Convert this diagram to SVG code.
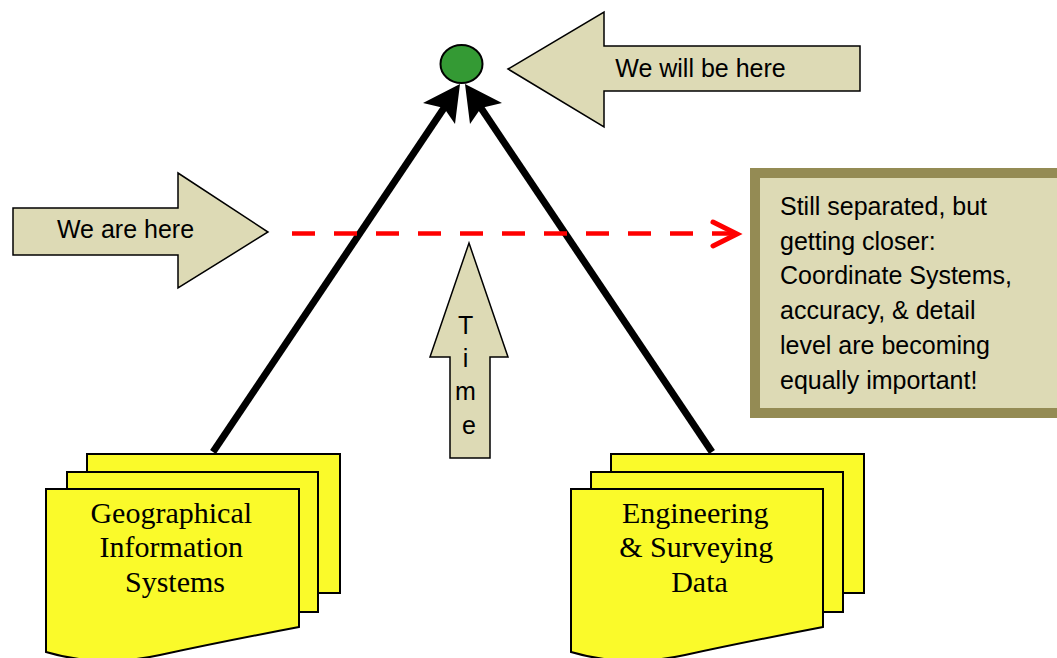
<svg xmlns="http://www.w3.org/2000/svg" width="1057" height="658" viewBox="0 0 1057 658">
  <style>
    .tan { fill: #DDDAB5; stroke: #000; stroke-width: 1.5; stroke-linejoin: miter; }
    .sheet { fill: #FAFA2A; stroke: #000; stroke-width: 2; }
    .lbl { font-family: "Liberation Sans", Arial, sans-serif; font-size: 25px; fill: #000; }
    .doc { font-family: "Liberation Serif", "Times New Roman", serif; font-size: 30px; fill: #000; text-anchor: middle; }
    .trunk { stroke: #000; stroke-width: 7; fill: none; }
    .head { fill: #000; stroke: none; }
  </style>
  <rect width="1057" height="658" fill="#fff"/>

  <g id="connectors">
    <line class="trunk" x1="213" y1="452" x2="446" y2="105"/>
    <polygon class="head" points="460,84 423,103 444,108 455,124"/>
    <line class="trunk" x1="712" y1="452" x2="479" y2="105"/>
    <polygon class="head" points="465,84 502,103 481,108 470,124"/>
    <line x1="292" y1="233.5" x2="734" y2="233.5" stroke="#FF0000" stroke-width="4.5" stroke-dasharray="23 19"/>
    <polyline points="713,222 737,234 713,246" fill="none" stroke="#FF0000" stroke-width="5" stroke-linejoin="miter" stroke-linecap="round"/>
  </g>

  <g id="goal">
    <ellipse cx="461.5" cy="64" rx="21" ry="19" fill="#349A34" stroke="#000" stroke-width="2"/>
  </g>

  <g id="will-be-here">
    <polygon class="tan" points="508,69 604,12 604,46 860,46 860,91 604,91 604,127"/>
    <text class="lbl" x="700.5" y="77" text-anchor="middle">We will be here</text>
  </g>

  <g id="are-here">
    <polygon class="tan" points="13,208 178,208 178,173 268,232 178,288 178,255 13,255"/>
    <text class="lbl" x="125.5" y="238" text-anchor="middle">We are here</text>
  </g>

  <g id="time">
    <polygon class="tan" points="469,243 508,357 490,357 490,458 450,458 450,357 430,357"/>
    <text class="lbl" x="469" text-anchor="middle">
      <tspan x="469" y="334">T</tspan>
      <tspan x="469" y="367">i</tspan>
      <tspan x="469" y="400">m</tspan>
      <tspan x="469" y="434">e</tspan>
    </text>
  </g>

  <g id="note">
    <rect x="755" y="173" width="320" height="240" fill="#DDDAB5" stroke="#948B54" stroke-width="10"/>
    <text class="lbl" x="780">
      <tspan x="780" y="215">Still separated, but</tspan>
      <tspan x="780" y="250">getting closer:</tspan>
      <tspan x="780" y="284">Coordinate Systems,</tspan>
      <tspan x="780" y="319">accuracy, &amp; detail</tspan>
      <tspan x="780" y="354">level are becoming</tspan>
      <tspan x="780" y="389">equally important!</tspan>
    </text>
  </g>

  <g id="gis">
    <rect class="sheet" x="87" y="454" width="253" height="139"/>
    <rect class="sheet" x="67" y="472" width="251" height="140"/>
    <path class="sheet" d="M46,652 Q100,668 160,655 T299,627 L299,489 L46,489 Z"/>
    <text class="doc">
      <tspan x="175" y="523">Geographical</tspan>
      <tspan x="175" y="557">Information</tspan>
      <tspan x="175" y="592">Systems</tspan>
    </text>
  </g>

  <g id="engineering">
    <rect class="sheet" x="611" y="454" width="253" height="139"/>
    <rect class="sheet" x="591" y="472" width="252" height="140"/>
    <path class="sheet" d="M571,652 Q625,668 685,655 T823,627 L823,489 L571,489 Z"/>
    <text class="doc">
      <tspan x="699" y="523">Engineering</tspan>
      <tspan x="700" y="557">&amp; Surveying</tspan>
      <tspan x="699.5" y="592">Data</tspan>
    </text>
  </g>
</svg>
